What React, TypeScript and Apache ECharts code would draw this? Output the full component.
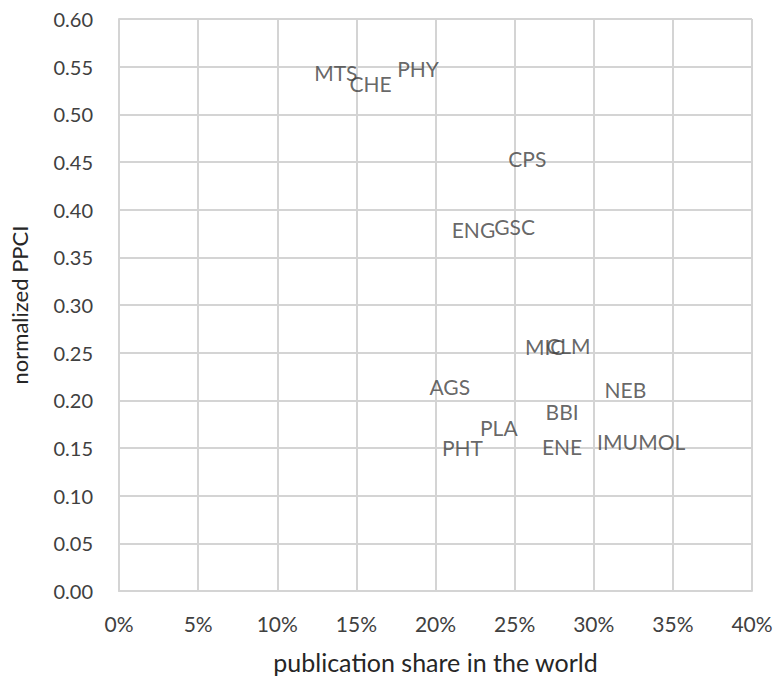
import React, { useEffect, useRef } from "react";
import * as echarts from "echarts";

const fields = ["MTS", "CHE", "PHY", "CPS", "ENG", "GSC", "MIC", "CLM", "AGS", "NEB", "BBI", "PLA", "PHT", "ENE", "IMU", "MOL"];
const share = [0.137, 0.159, 0.189, 0.258, 0.224, 0.250, 0.269, 0.284, 0.209, 0.320, 0.280, 0.240, 0.217, 0.280, 0.315, 0.343];
const ppci = [0.544, 0.532, 0.548, 0.454, 0.379, 0.382, 0.256, 0.258, 0.215, 0.211, 0.188, 0.171, 0.151, 0.152, 0.157, 0.157];
const xTicks = [0, 0.05, 0.1, 0.15, 0.2, 0.25, 0.3, 0.35, 0.4];
const yTicks = [0, 0.05, 0.1, 0.15, 0.2, 0.25, 0.3, 0.35, 0.4, 0.45, 0.5, 0.55, 0.6];

const FONT = "Lato";

export default function App() {
  const ref = useRef<HTMLDivElement>(null);
  useEffect(() => {
    if (!ref.current) return;
    const chart = echarts.init(ref.current, null, { renderer: "svg" });
    const data = fields.map((f, i) => [share[i], ppci[i], f]);
    const gridColor = "#d4d4d4";
    chart.setOption({
      animation: false,
      textStyle: { fontFamily: FONT },
      grid: { left: 114, right: 24, top: 19, bottom: 88, containLabel: false },
      xAxis: {
        type: "value",
        min: xTicks[0],
        max: xTicks[xTicks.length - 1],
        interval: 0.05,
        name: "publication share in the world",
        nameLocation: "middle",
        nameGap: 58,
        nameTextStyle: { fontSize: 25, color: "#262626", fontFamily: FONT },
        axisLine: { show: true, lineStyle: { color: gridColor, width: 2 } },
        axisTick: { show: false },
        splitLine: { show: true, lineStyle: { color: gridColor, width: 2 } },
        axisLabel: {
          fontSize: 21,
          color: "#404040",
          margin: 22,
          fontFamily: FONT,
          formatter: (v: number) => Math.round(v * 100) + "%",
        },
      },
      yAxis: {
        type: "value",
        min: yTicks[0],
        max: yTicks[yTicks.length - 1],
        interval: 0.05,
        name: "normalized PPCI",
        nameLocation: "middle",
        nameGap: 89,
        nameTextStyle: { fontSize: 22, color: "#262626", fontFamily: FONT },
        axisLine: { show: true, lineStyle: { color: gridColor, width: 2 } },
        axisTick: { show: false },
        splitLine: { show: true, lineStyle: { color: gridColor, width: 2 } },
        axisLabel: {
          fontSize: 20,
          color: "#404040",
          margin: 26,
          fontFamily: FONT,
          formatter: (v: number) => v.toFixed(2),
        },
      },
      series: [
        {
          type: "scatter",
          symbolSize: 1,
          itemStyle: { color: "rgba(0,0,0,0)" },
          data,
          label: {
            show: true,
            position: "inside",
            formatter: (p: any) => p.data[2],
            fontSize: 21,
            color: "#404040",
            fontFamily: FONT,
          },
        },
      ],
    });
    return () => chart.dispose();
  }, []);
  return (
    <div
      ref={ref}
      style={{ position: "absolute", left: 0, top: 0, width: 776, height: 679, background: "#fff" }}
    />
  );
}
